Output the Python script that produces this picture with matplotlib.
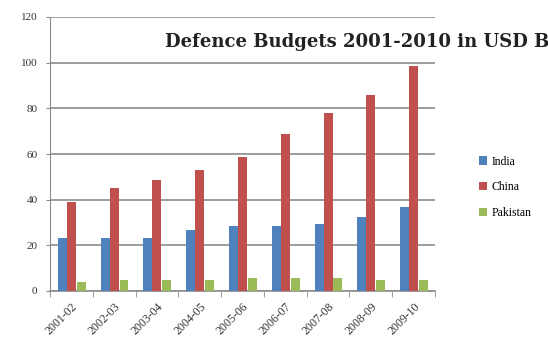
import numpy as np
import matplotlib.pyplot as plt

# Data (USD billions)
years = ["2001-02", "2002-03", "2003-04", "2004-05", "2005-06",
         "2006-07", "2007-08", "2008-09", "2009-10"]
india = [23.2, 23.2, 23.2, 26.7, 28.5, 28.5, 29.3, 32.4, 36.8]
china = [39.0, 45.0, 48.6, 53.0, 58.7, 68.8, 78.0, 86.0, 98.5]
pakistan = [4.0, 4.8, 4.8, 4.8, 5.7, 5.7, 5.7, 4.8, 4.8]

colors = ["#4F81BD", "#C0504D", "#9BBB59"]
grid_col = "#8c8c8c"

fig = plt.figure(figsize=(5.48, 3.55), dpi=100)
ax = fig.add_axes([50/548, 1-291/355, 385/548, 274/355])

x = np.arange(len(years))
w = 0.21
ax.bar(x - w, india, w, color=colors[0], label="India", zorder=3)
ax.bar(x, china, w, color=colors[1], label="China", zorder=3)
ax.bar(x + w + 0.02, pakistan, w, color=colors[2], label="Pakistan", zorder=3)

ax.set_xlim(-0.5, len(years) - 0.5)
ax.set_ylim(0, 120)
ax.set_yticks(range(0, 121, 20))
ax.yaxis.grid(True, color=grid_col, linewidth=1.2, zorder=0)

for s in ["top", "right"]:
    ax.spines[s].set_visible(False)
ax.spines["left"].set_color(grid_col)
ax.spines["bottom"].set_color(grid_col)
ax.spines["bottom"].set_linewidth(1.2)

ax.set_xticks(x)
ax.set_xticklabels(years, rotation=45, ha="right", rotation_mode="anchor",
                   fontsize=8.5, color="#333333", family="Liberation Serif")
ax.tick_params(axis="x", which="major", length=0, pad=7)
ax.set_xticks(np.arange(-0.5, len(years)), minor=True)
ax.tick_params(axis="x", which="minor", length=4, color=grid_col)
ax.tick_params(axis="y", length=3, color=grid_col, labelsize=8,
               labelcolor="#333333", pad=6)
for lbl in ax.get_yticklabels():
    lbl.set_family("Liberation Serif")

# title is clipped by the right edge, as in the source image
fig.text(165/548, 1-42/355, "Defence Budgets 2001-2010 in USD Billions",
         fontsize=13.0, fontweight="bold", family="DejaVu Serif",
         color="#222222", va="center", ha="left")

fig.legend(loc="upper left", bbox_to_anchor=(468/548, 1-145/355),
           frameon=False, handlelength=0.7, handleheight=0.7,
           handletextpad=0.4, labelspacing=1.15,
           prop={"family": "Liberation Serif", "size": 8.5})

fig.savefig("out.png", dpi=100)
